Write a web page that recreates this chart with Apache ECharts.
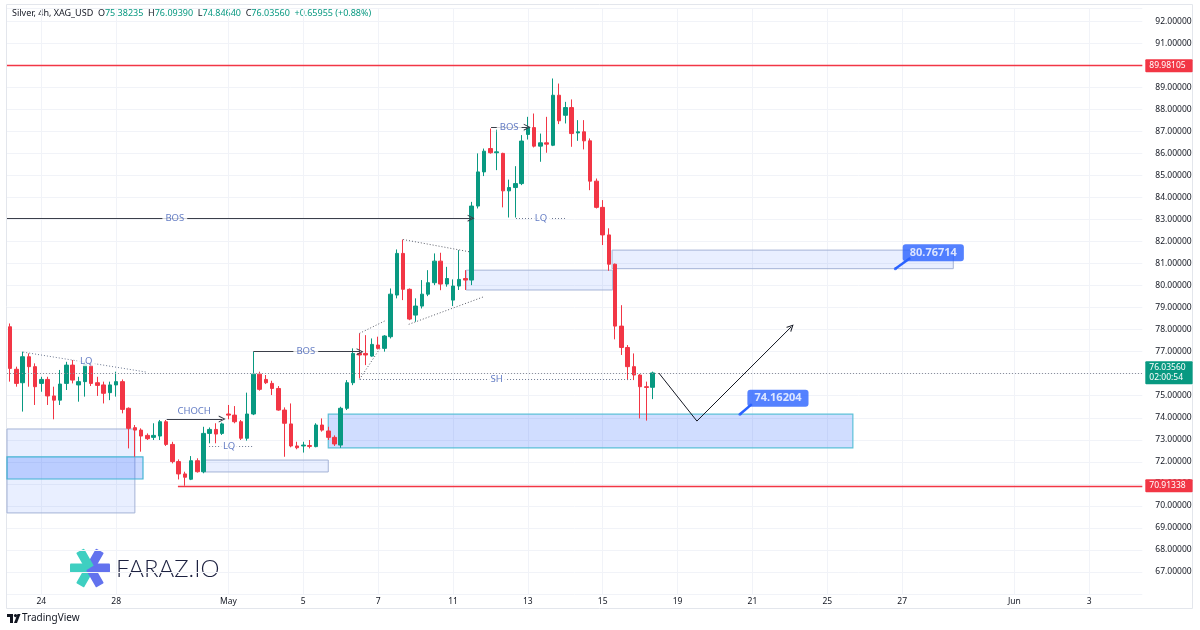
<!DOCTYPE html>
<html>
<head>
<meta charset="utf-8">
<title>Silver 4h XAG_USD</title>
<script src="https://cdn.jsdelivr.net/npm/echarts@6.0.0/dist/echarts.min.js"></script>
<style>
html, body { margin: 0; padding: 0; background: #fff; }
#chart { width: 1200px; height: 630px; }
</style>
</head>
<body>
<div id="chart"></div>
<script>
// trading days shown on the time scale, 6 four-hour bars each
const tradingDays = ['Apr 23', 'Apr 24', 'Apr 27', 'Apr 28', 'Apr 29', 'Apr 30', 'May 1',
  'May 4', 'May 5', 'May 6', 'May 7', 'May 8', 'May 11', 'May 12', 'May 13', 'May 14', 'May 15',
  'May 18', 'May 19', 'May 20', 'May 21', 'May 22', 'May 25', 'May 26', 'May 27', 'May 28', 'May 29',
  'Jun 1', 'Jun 2', 'Jun 3', 'Jun 4', 'Jun 5'];
const barHours = ['01:00', '05:00', '09:00', '13:00', '17:00', '21:00'];
const barCount = 182;

const tickDays = ['Apr 24', 'Apr 28', 'May 1', 'May 5', 'May 7', 'May 11', 'May 13', 'May 15',
  'May 19', 'May 21', 'May 25', 'May 27', 'Jun 1', 'Jun 3'];
const tickTexts = ['24', '28', 'May', '5', '7', '11', '13', '15', '19', '21', '25', '27', 'Jun', '3'];

// OHLC, one value per 4h bar
const open = [78.13, 76.20, 75.59, 76.77, 76.32, 75.56, 75.74, 74.99, 74.80, 75.56,
  76.39, 75.49, 75.64, 76.39, 75.59, 75.49, 75.14, 75.49, 75.64, 74.43,
  73.55, 73.44, 73.20, 73.11, 73.17, 73.82, 72.79, 72.01, 71.45, 71.21,
  72.05, 71.55, 73.29, 73.47, 73.29, 74.17, 74.12, 73.82, 73.07, 74.17,
  75.98, 75.74, 75.56, 75.33, 74.35, 73.72, 72.72, 72.72, 72.74, 72.69,
  73.67, 73.40, 73.11, 72.76, 74.43, 75.59, 76.92, 76.92, 76.80, 77.30,
  77.15, 77.68, 79.57, 81.46, 79.83, 78.66, 79.07, 79.61, 80.13, 81.11,
  80.07, 79.34, 79.98, 80.32, 80.25, 83.61, 85.16, 86.22, 86.03, 86.00,
  84.30, 84.45, 84.63, 86.86, 87.17, 86.33, 86.48, 86.37, 88.64, 87.73,
  88.08, 86.93, 86.98, 86.57, 84.74, 83.55, 82.30, 80.97, 78.16, 77.19,
  76.32, 75.94, 75.41, 75.38235];
const high = [78.28, 76.32, 77.00, 76.92, 76.47, 75.86, 75.86, 75.41, 76.17, 76.54,
  76.62, 75.86, 76.54, 76.47, 75.86, 75.64, 75.64, 76.09, 75.74, 74.47,
  73.67, 73.52, 73.29, 73.75, 73.90, 73.90, 72.91, 72.11, 71.55, 72.26,
  72.16, 73.59, 73.56, 73.75, 73.78, 74.58, 74.53, 73.90, 75.14, 77.00,
  76.09, 75.94, 75.68, 75.44, 74.47, 74.65, 72.91, 72.91, 72.99, 73.75,
  73.97, 73.59, 73.20, 74.50, 75.71, 77.15, 77.83, 77.75, 77.60, 77.68,
  77.75, 79.87, 81.64, 82.09, 79.87, 79.42, 80.25, 80.70, 81.46, 81.49,
  80.85, 80.28, 81.61, 80.70, 83.80, 86.00, 86.22, 87.13, 87.08, 86.03,
  84.81, 85.42, 86.83, 87.66, 87.81, 86.90, 87.66, 89.40, 89.17, 88.34,
  88.45, 87.51, 87.51, 86.68, 84.86, 83.88, 82.60, 81.00, 79.11, 77.30,
  76.92, 75.98, 75.64, 76.09390];
const low = [75.64, 75.41, 74.28, 75.41, 74.58, 75.18, 74.58, 73.93, 74.58, 75.26,
  75.56, 74.73, 74.96, 75.44, 74.99, 74.65, 74.80, 74.96, 74.20, 72.61,
  72.23, 72.46, 72.99, 72.99, 72.99, 72.72, 71.93, 71.20, 70.91338, 71.17,
  71.51, 71.48, 72.84, 72.84, 73.22, 73.93, 73.75, 72.99, 72.96, 74.12,
  75.23, 75.53, 75.03, 74.32, 72.23, 72.66, 72.57, 72.42, 72.61, 72.66,
  73.37, 72.99, 72.72, 72.64, 74.35, 75.48, 75.79, 76.39, 76.77, 77.10,
  77.00, 77.60, 79.42, 79.34, 78.43, 78.36, 78.96, 79.52, 80.02, 79.79,
  79.95, 79.07, 79.80, 79.80, 80.02, 83.50, 84.97, 85.99, 85.24, 83.55,
  83.09, 83.09, 84.56, 86.63, 86.27, 85.62, 86.03, 86.33, 87.33, 87.36,
  86.30, 86.57, 86.18, 84.33, 83.50, 81.84, 80.67, 77.56, 76.85, 75.71,
  75.71, 73.97, 73.87, 74.84640];
const close = [76.24, 75.56, 76.77, 76.32, 75.41, 75.74, 74.99, 74.80, 75.53, 76.39,
  75.71, 75.64, 76.42, 75.56, 75.47, 75.11, 75.49, 75.64, 74.38, 73.52,
  73.44, 73.17, 73.05, 73.20, 73.82, 72.79, 72.01, 71.45, 71.30, 72.05,
  71.55, 73.29, 73.47, 73.26, 73.72, 74.12, 73.82, 73.07, 74.17, 75.98,
  75.29, 75.59, 75.33, 74.35, 73.75, 72.72, 72.64, 72.76, 72.70, 73.67,
  73.44, 73.11, 72.81, 74.43, 75.59, 76.92, 76.85, 76.85, 77.33, 77.15,
  77.71, 79.61, 81.46, 79.83, 78.48, 79.07, 79.61, 80.13, 81.11, 80.07,
  80.32, 79.98, 80.28, 80.25, 83.61, 85.16, 86.10, 86.03, 86.07, 84.30,
  84.45, 84.63, 86.56, 87.17, 86.33, 86.48, 86.42, 88.64, 87.48, 88.08,
  86.90, 86.98, 86.57, 84.74, 83.55, 82.30, 80.97, 78.16, 77.19, 76.32,
  75.94, 75.41, 75.37605, 76.03560];

// horizontal levels
const resistance = 89.98105;
const support = 70.91338;
const supportStart = 26.9;
const lastPrice = 76.03560;
const countdown = '02:00:54';

// supply / demand boxes: [x1, top, x2, bottom] in bar units and price
const zoneBounds = [
  [-0.5, 73.49, 20.0, 69.68],
  [-0.5, 72.22, 21.3, 71.22],
  [30.8, 72.08, 51.0, 71.54],
  [51.0, 74.16204, 135.1, 72.63],
  [73.1, 80.70, 96.6, 79.80],
  [96.5, 81.61, 151.2, 80.76714]
];
const zoneKinds = ['pale', 'deep', 'pale', 'mid', 'pale', 'pale'];

// drawings, in bar units and price
const arrowLines = [
  [[-0.5, 83.06], [73.9, 83.06]],
  [[39.0, 77.00], [56.1, 77.00]],
  [[77.1, 87.19], [82.9, 87.19]],
  [[25.1, 73.94], [34.0, 73.94]]
];
const dottedLines = [
  [[2.1, 76.98], [21.9, 76.07]],
  [[31.9, 72.72], [38.9, 72.72]],
  [[81.1, 83.06], [89.1, 83.06]],
  [[56.1, 75.76], [99.7, 75.76]]
];
const wedgeLines = [
  [[56.0, 77.83], [60.1, 78.40]],
  [[56.0, 75.74], [59.3, 77.15]],
  [[63.0, 82.09], [73.7, 81.53]],
  [[63.9, 78.24], [75.9, 79.49]]
];
const projection = [[104.0, 76.03], [110.1, 73.85], [125.2, 78.12]];
const pointers = [
  [[117.0, 74.16204], [118.9, 74.62]],
  [[141.9, 80.76714], [144.3, 81.25]]
];

const notes = [
  { name: 'BOS', value: [26.4, 83.06] },
  { name: 'BOS', value: [47.4, 77.00] },
  { name: 'BOS', value: [80.0, 87.19] },
  { name: 'CHOCH', value: [29.5, 74.30] },
  { name: 'LQ', value: [12.2, 76.57] },
  { name: 'LQ', value: [35.1, 72.72] },
  { name: 'LQ', value: [85.1, 83.06] },
  { name: 'SH', value: [78.0, 75.76] }
];
const callouts = [
  { name: '74.16204', value: [117.0, 74.16204] },
  { name: '80.76714', value: [141.9, 80.76714] }
];

// ---- build ----
const categories = [];
tradingDays.forEach(d => barHours.forEach(h => categories.push(d + ' ' + h)));
categories.splice(0, 1);
categories.length = barCount;

const tickIdx = tickDays.map(d => categories.indexOf(d + ' ' + barHours[0]));
const candles = open.map((o, i) => [i, o, close[i], low[i], high[i]]);

const UP = '#089981', DOWN = '#f23645', BLUE = '#2962ff', INK = '#131722';
const FONT = 'Noto Sans';

const zoneStyles = {
  pale: { color: 'rgba(41,98,255,0.1)', borderColor: '#a4b3d6', borderWidth: 1 },
  deep: { color: 'rgba(41,98,255,0.24)', borderColor: '#44b4d4', borderWidth: 1.2 },
  mid: { color: 'rgba(41,98,255,0.22)', borderColor: '#5cc0d8', borderWidth: 1.2 }
};

function seg(p, q, style, arrow) {
  return [
    { coord: p, symbol: 'none', lineStyle: style },
    { coord: q, symbol: arrow ? 'path://M5,0L10,9L8.4,9L5,2.8L1.6,9L0,9Z' : 'none', symbolSize: 7 }
  ];
}

const drawLines = [];
arrowLines.forEach(l => drawLines.push(seg(l[0], l[1], { color: '#3b3f4a', width: 1, type: 'solid' }, true)));
dottedLines.forEach(l => drawLines.push(seg(l[0], l[1], { color: '#6d7891', width: 1, type: [1, 2] }, false)));
wedgeLines.forEach(l => drawLines.push(seg(l[0], l[1], { color: '#5a5e69', width: 1, type: [1, 2] }, false)));
drawLines.push(seg(projection[0], projection[1], { color: '#131722', width: 1, type: 'solid' }, false));
drawLines.push(seg(projection[1], projection[2], { color: '#131722', width: 1, type: 'solid' }, true));
pointers.forEach(l => drawLines.push(seg(l[0], l[1], { color: BLUE, width: 2.5, type: 'solid' }, false)));

function tag(text, bg) {
  return {
    show: true, position: 'end', distance: 3, formatter: text,
    backgroundColor: bg, color: '#fff', fontSize: 8.5, fontFamily: FONT,
    padding: [2, 7, 1, 4], lineHeight: 10, borderRadius: 1
  };
}

const last = close.length - 1;
const change = close[last] - close[last - 1];
const headerText = 'Silver, 4h, XAG_USD  O{g|' + open[last].toFixed(5) + '}  H{g|' + high[last].toFixed(5) +
  '}  L{g|' + low[last].toFixed(5) + '}  C{g|' + close[last].toFixed(5) + '}  {g|+' + change.toFixed(5) +
  ' (+' + (change / close[last - 1] * 100).toFixed(2) + '%)}';

const chart = echarts.init(document.getElementById('chart'));
chart.setOption({
  animation: false,
  backgroundColor: '#fff',
  grid: { left: 7, right: 57.7, top: 8, bottom: 36 },
  xAxis: {
    type: 'value',
    min: -0.5,
    max: barCount - 0.5,
    axisLine: { show: false },
    axisTick: { show: false, customValues: tickIdx },
    axisLabel: {
      customValues: tickIdx,
      margin: 3,
      fontSize: 8.5,
      fontFamily: FONT,
      color: INK,
      formatter: v => tickTexts[tickIdx.indexOf(Math.round(v))]
    },
    splitLine: { show: true, lineStyle: { color: '#f1f3f8', width: 1 } }
  },
  yAxis: {
    type: 'value',
    position: 'right',
    min: 66,
    max: 92.6,
    interval: 1,
    scale: true,
    axisLine: { show: false },
    axisTick: { show: false },
    axisLabel: {
      showMinLabel: false,
      showMaxLabel: false,
      margin: 13,
      fontSize: 8.5,
      fontFamily: FONT,
      color: INK,
      formatter: v => v.toFixed(5)
    },
    splitLine: { lineStyle: { color: '#f1f3f8', width: 1 } }
  },
  series: [
    {
      name: 'XAG_USD',
      type: 'candlestick',
      data: candles,
      encode: { x: 0, y: [1, 2, 3, 4] },
      barWidth: 4,
      itemStyle: { color: UP, color0: DOWN, borderColor: UP, borderColor0: DOWN, borderWidth: 1 },
      markArea: {
        silent: true,
        data: zoneBounds.map((z, i) => [
          { coord: [z[0], z[1]], itemStyle: zoneStyles[zoneKinds[i]] },
          { coord: [z[2], z[3]] }
        ])
      },
      markLine: {
        silent: true,
        symbol: 'none',
        data: [
          { yAxis: resistance, lineStyle: { color: DOWN, width: 1.3, type: 'solid' }, label: tag(resistance.toFixed(5), DOWN) },
          [
            { coord: [supportStart, support], lineStyle: { color: DOWN, width: 1.3, type: 'solid' }, label: tag(support.toFixed(5), DOWN) },
            { coord: [barCount - 0.5, support] }
          ],
          { yAxis: lastPrice, lineStyle: { color: '#8c909b', width: 1, type: [1, 2] }, label: tag(lastPrice.toFixed(5) + '\n' + countdown, UP) }
        ]
      }
    },
    {
      name: 'notes',
      type: 'scatter',
      symbolSize: 0,
      z: 5,
      data: notes,
      label: {
        show: true,
        position: 'inside',
        formatter: '{b}',
        color: '#3c5bb5',
        fontSize: 9.5,
        fontFamily: FONT,
        backgroundColor: '#fff',
        padding: [0, 3]
      },
      markLine: { silent: true, symbol: 'none', label: { show: false }, data: drawLines }
    },
    {
      name: 'callouts',
      type: 'scatter',
      symbol: 'circle',
      symbolSize: 3,
      z: 6,
      itemStyle: { color: BLUE },
      data: callouts,
      label: {
        show: true,
        position: 'inside',
        offset: [38, -16],
        formatter: '{b}',
        color: '#fff',
        fontWeight: 'bold',
        fontSize: 11,
        fontFamily: FONT,
        backgroundColor: BLUE,
        borderRadius: 3,
        padding: [3, 7]
      }
    }
  ],
  graphic: [
    {
      type: 'rect', z: -1, silent: true,
      shape: { x: 6.5, y: 4.5, width: 1186, height: 604 },
      style: { fill: 'none', stroke: '#e3e6ec', lineWidth: 1 }
    },
    {
      type: 'text', left: 12, top: 9,
      style: {
        text: headerText,
        fill: INK, fontSize: 9, fontFamily: FONT,
        rich: { g: { fill: UP, fontSize: 9, fontFamily: FONT } }
      }
    },
    {
      type: 'group', x: 90, y: 568, silent: true,
      children: [0, 60, 120, 180, 240, 300].map(a => ({
        type: 'rect',
        rotation: a * Math.PI / 180,
        shape: { x: 0, y: -4.5, width: 20, height: 9, r: 1 },
        style: { fill: (a >= 90 && a <= 240) ? '#3ecfc1' : '#6272ee' }
      }))
    },
    {
      type: 'text', x: 116, y: 569,
      style: { text: 'FARAZ.IO', fill: '#1d2140', fontSize: 24, fontWeight: 300, fontFamily: 'Lato', verticalAlign: 'middle' }
    },
    {
      type: 'group', x: 7, y: 614, silent: true,
      children: [
        { type: 'rect', shape: { x: 0, y: 0, width: 6, height: 3 }, style: { fill: INK } },
        { type: 'rect', shape: { x: 3, y: 0, width: 3, height: 9 }, style: { fill: INK } },
        { type: 'circle', shape: { cx: 8.5, cy: 1.6, r: 1.6 }, style: { fill: INK } },
        { type: 'polygon', shape: { points: [[7, 9], [10.5, 0], [13.5, 0], [10, 9]] }, style: { fill: INK } }
      ]
    },
    {
      type: 'text', left: 22, top: 613,
      style: { text: 'TradingView', fill: INK, fontSize: 10, fontFamily: FONT }
    }
  ]
});
</script>
</body>
</html>
